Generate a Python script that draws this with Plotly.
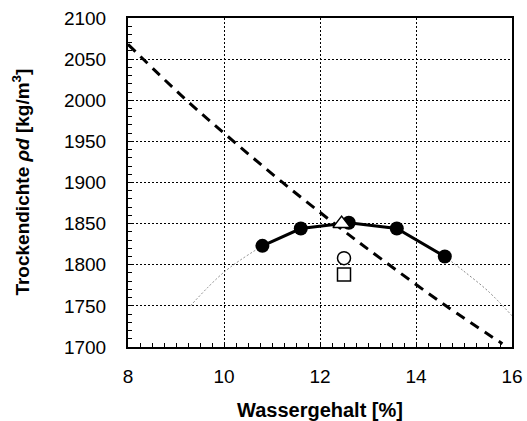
import plotly.graph_objects as go

# Proctor test: measured points (thick line)
w_meas = [10.8, 11.6, 12.6, 13.6, 14.6]
rho_meas = [1823, 1844, 1851, 1844, 1810]

# fitted curve continuation (thin dotted)
w_fit_left = [9.3, 10.0, 10.8]
rho_fit_left = [1750, 1791, 1823]
w_fit_right = [14.6, 15.0, 15.5, 16.0]
rho_fit_right = [1810, 1792, 1768, 1738]

# saturation line (dashed)
w_sat = [8.0, 9.2, 10.2, 11.2, 12.3, 13.3, 14.6, 15.8]
rho_sat = [2068, 2001, 1950, 1901, 1850, 1806, 1751, 1704]

# single points
w_tri, rho_tri = [12.45], [1850]
w_circ, rho_circ = [12.5], [1808]
w_sq, rho_sq = [12.5], [1788]

x_ticks = [8, 10, 12, 14, 16]
y_ticks = [1700, 1750, 1800, 1850, 1900, 1950, 2000, 2050, 2100]

FONT = "Liberation Sans, Arial, sans-serif"

fig = go.Figure()
fig.add_trace(go.Scatter(x=w_fit_left, y=rho_fit_left, mode="lines",
                         line=dict(color="#888", width=1, dash="2px,2px", shape="spline"), showlegend=False))
fig.add_trace(go.Scatter(x=w_fit_right, y=rho_fit_right, mode="lines",
                         line=dict(color="#888", width=1, dash="2px,2px", shape="spline"), showlegend=False))
fig.add_trace(go.Scatter(x=w_sat, y=rho_sat, mode="lines",
                         line=dict(color="black", width=3, dash="10px,7px", shape="spline"), showlegend=False))
fig.add_trace(go.Scatter(x=w_meas, y=rho_meas, mode="lines+markers",
                         line=dict(color="black", width=3),
                         marker=dict(symbol="circle", size=14, color="black"), showlegend=False))
fig.add_trace(go.Scatter(x=w_tri, y=rho_tri, mode="markers",
                         marker=dict(symbol="triangle-up", size=15, color="white",
                                     line=dict(width=1.5, color="black")), showlegend=False))
fig.add_trace(go.Scatter(x=w_circ, y=rho_circ, mode="markers",
                         marker=dict(symbol="circle", size=13, color="white",
                                     line=dict(width=1.5, color="black")), showlegend=False))
fig.add_trace(go.Scatter(x=w_sq, y=rho_sq, mode="markers",
                         marker=dict(symbol="square", size=13, color="white",
                                     line=dict(width=1.5, color="black")), showlegend=False))

axis_common = dict(
    showline=True, linecolor="black", linewidth=2, mirror=True,
    ticks="inside", ticklen=4, tickcolor="black", tickwidth=1,
    showgrid=True, gridcolor="black", griddash="2px,2px", gridwidth=1,
    zeroline=False, automargin=False,
    tickfont=dict(family=FONT, size=19, color="black"),
)

fig.update_xaxes(range=[8, 16], tickvals=x_ticks, ticktext=[str(v) for v in x_ticks],
                 minor=dict(ticks="inside", dtick=0.25, ticklen=4, tickcolor="black", showgrid=False),
                 ticklabelstandoff=11,
                 **axis_common)
fig.update_yaxes(range=[1700, 2100], tickvals=y_ticks, ticktext=[str(v) for v in y_ticks],
                 minor=dict(ticks="inside", dtick=10, ticklen=4, tickcolor="black", showgrid=False),
                 ticklabelstandoff=16,
                 **axis_common)

fig.add_annotation(text="<b>Wassergehalt [%]</b>", xref="paper", yref="paper",
                   x=0.5, y=-0.193, xanchor="center", yanchor="middle", showarrow=False,
                   font=dict(family=FONT, size=20, color="black"))
fig.add_annotation(text="<b>Trockendichte <i>ρd</i> [kg/m<sup>3</sup>]</b>", xref="paper", yref="paper",
                   x=-0.281, y=0.5, xanchor="center", yanchor="middle", showarrow=False, textangle=-90,
                   font=dict(family=FONT, size=19, color="black"))

fig.update_layout(width=527, height=421, margin=dict(l=128, r=15, t=18, b=74),
                  plot_bgcolor="white", paper_bgcolor="white")
fig.write_html("out.html")
